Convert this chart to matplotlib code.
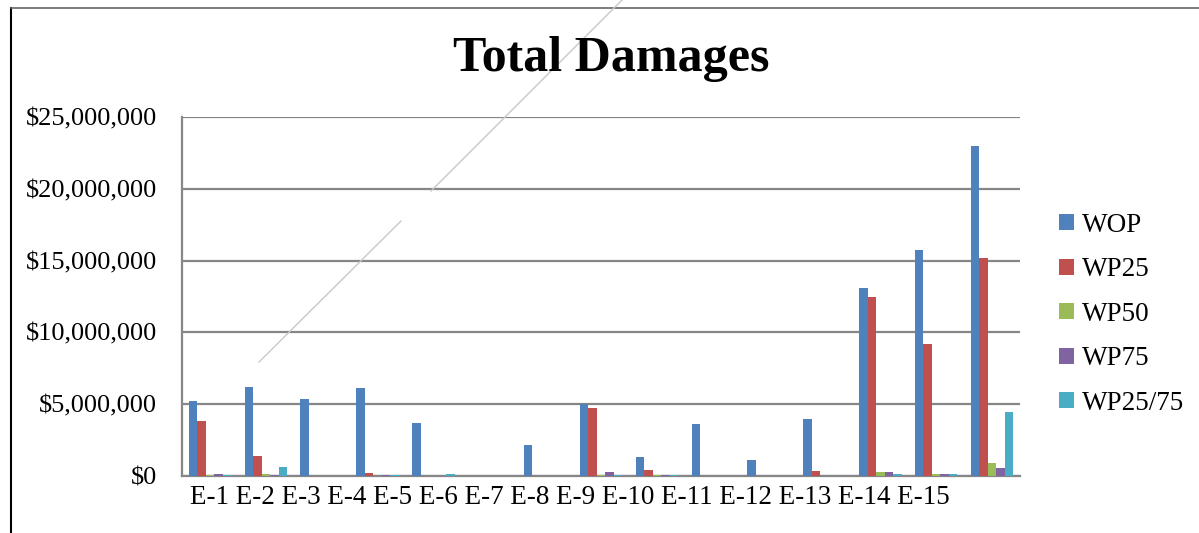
import numpy as np
import matplotlib
matplotlib.use("Agg")
import matplotlib.pyplot as plt
from matplotlib.lines import Line2D

# values in $ millions
events = ["E-1", "E-2", "E-3", "E-4", "E-5", "E-6", "E-7", "E-8",
          "E-9", "E-10", "E-11", "E-12", "E-13", "E-14", "E-15"]
wop = [5.22, 6.22, 5.34, 6.13, 3.67, 0, 2.16, 4.99, 1.35, 3.60, 1.11, 3.95, 13.07, 15.74, 23.0]
wp25 = [3.83, 1.42, 0.03, 0.19, 0, 0, 0, 4.71, 0.42, 0, 0, 0.35, 12.44, 9.17, 15.16]
wp50 = [0.10, 0.15, 0, 0, 0, 0, 0, 0.10, 0.10, 0, 0, 0, 0.25, 0.15, 0.88]
wp75 = [0.15, 0.08, 0, 0.08, 0, 0, 0, 0.26, 0.08, 0, 0, 0, 0.25, 0.15, 0.54]
wp2575 = [0.08, 0.60, 0, 0.08, 0.12, 0, 0, 0.10, 0.08, 0, 0, 0.03, 0.15, 0.15, 4.48]

series = [("WOP", wop, "#4F81BD"),
          ("WP25", wp25, "#C0504D"),
          ("WP50", wp50, "#9BBB59"),
          ("WP75", wp75, "#8064A2"),
          ("WP25/75", wp2575, "#4BACC6")]

plt.rcParams['font.family'] = ['Liberation Serif', 'DejaVu Serif']

fig = plt.figure(figsize=(11.99, 5.33), dpi=100)
ax = fig.add_axes([0.1518, 0.1069, 0.6989, 0.6736])

x = np.arange(len(events))
w = 0.152
for i, (name, vals, col) in enumerate(series):
    ax.bar(x + (i - 2) * w, np.array(vals) * 1e6, width=w, color=col,
           label=name, zorder=3)

ax.set_xlim(-0.5, len(events) - 0.5)
ax.set_ylim(0, 25e6)
ax.set_yticks(np.arange(0, 25e6 + 1, 5e6))
ax.set_yticklabels(["$0", "$5,000,000", "$10,000,000", "$15,000,000",
                    "$20,000,000", "$25,000,000"], fontsize=19)
ax.tick_params(axis="y", length=0, pad=18)
ax.set_xticks([])
ax.grid(axis="y", color="#868686", lw=1.6, zorder=0)
for s in ["top", "right"]:
    ax.spines[s].set_visible(False)
for s in ["left", "bottom"]:
    ax.spines[s].set_color("#868686")
    ax.spines[s].set_linewidth(1.6)

# category labels run together as one line of text, like in the original
fig.text(190 / 1199, 1 - 497 / 533, " ".join(events), fontsize=19.5,
         ha="left", va="center")

fig.text(611 / 1199, 1 - 59 / 533, "Total Damages", fontsize=36,
         fontweight="bold", ha="center", va="center")

ax.legend(loc="upper left", bbox_to_anchor=(1.034, 0.763), frameon=False,
          fontsize=19.5, handlelength=0.55, handleheight=0.55,
          handletextpad=0.3, labelspacing=0.72, borderaxespad=0)

# outer frame and the stray diagonal line
W, H = 1199, 533
def px(xs, ys):
    return [v / W for v in xs], [1 - v / H for v in ys]
fig.add_artist(Line2D(*px([11, 11], [8, 533]), color="black", lw=1.5))
fig.add_artist(Line2D(*px([11, 1199], [8, 8]), color="#666666", lw=1.2))
fig.add_artist(Line2D(*px([259, 401], [362, 221]), color="#c8c8c8", lw=1.0))
fig.add_artist(Line2D(*px([431, 622], [191, 0]), color="#c8c8c8", lw=1.0))

fig.savefig("out.png", dpi=100)
